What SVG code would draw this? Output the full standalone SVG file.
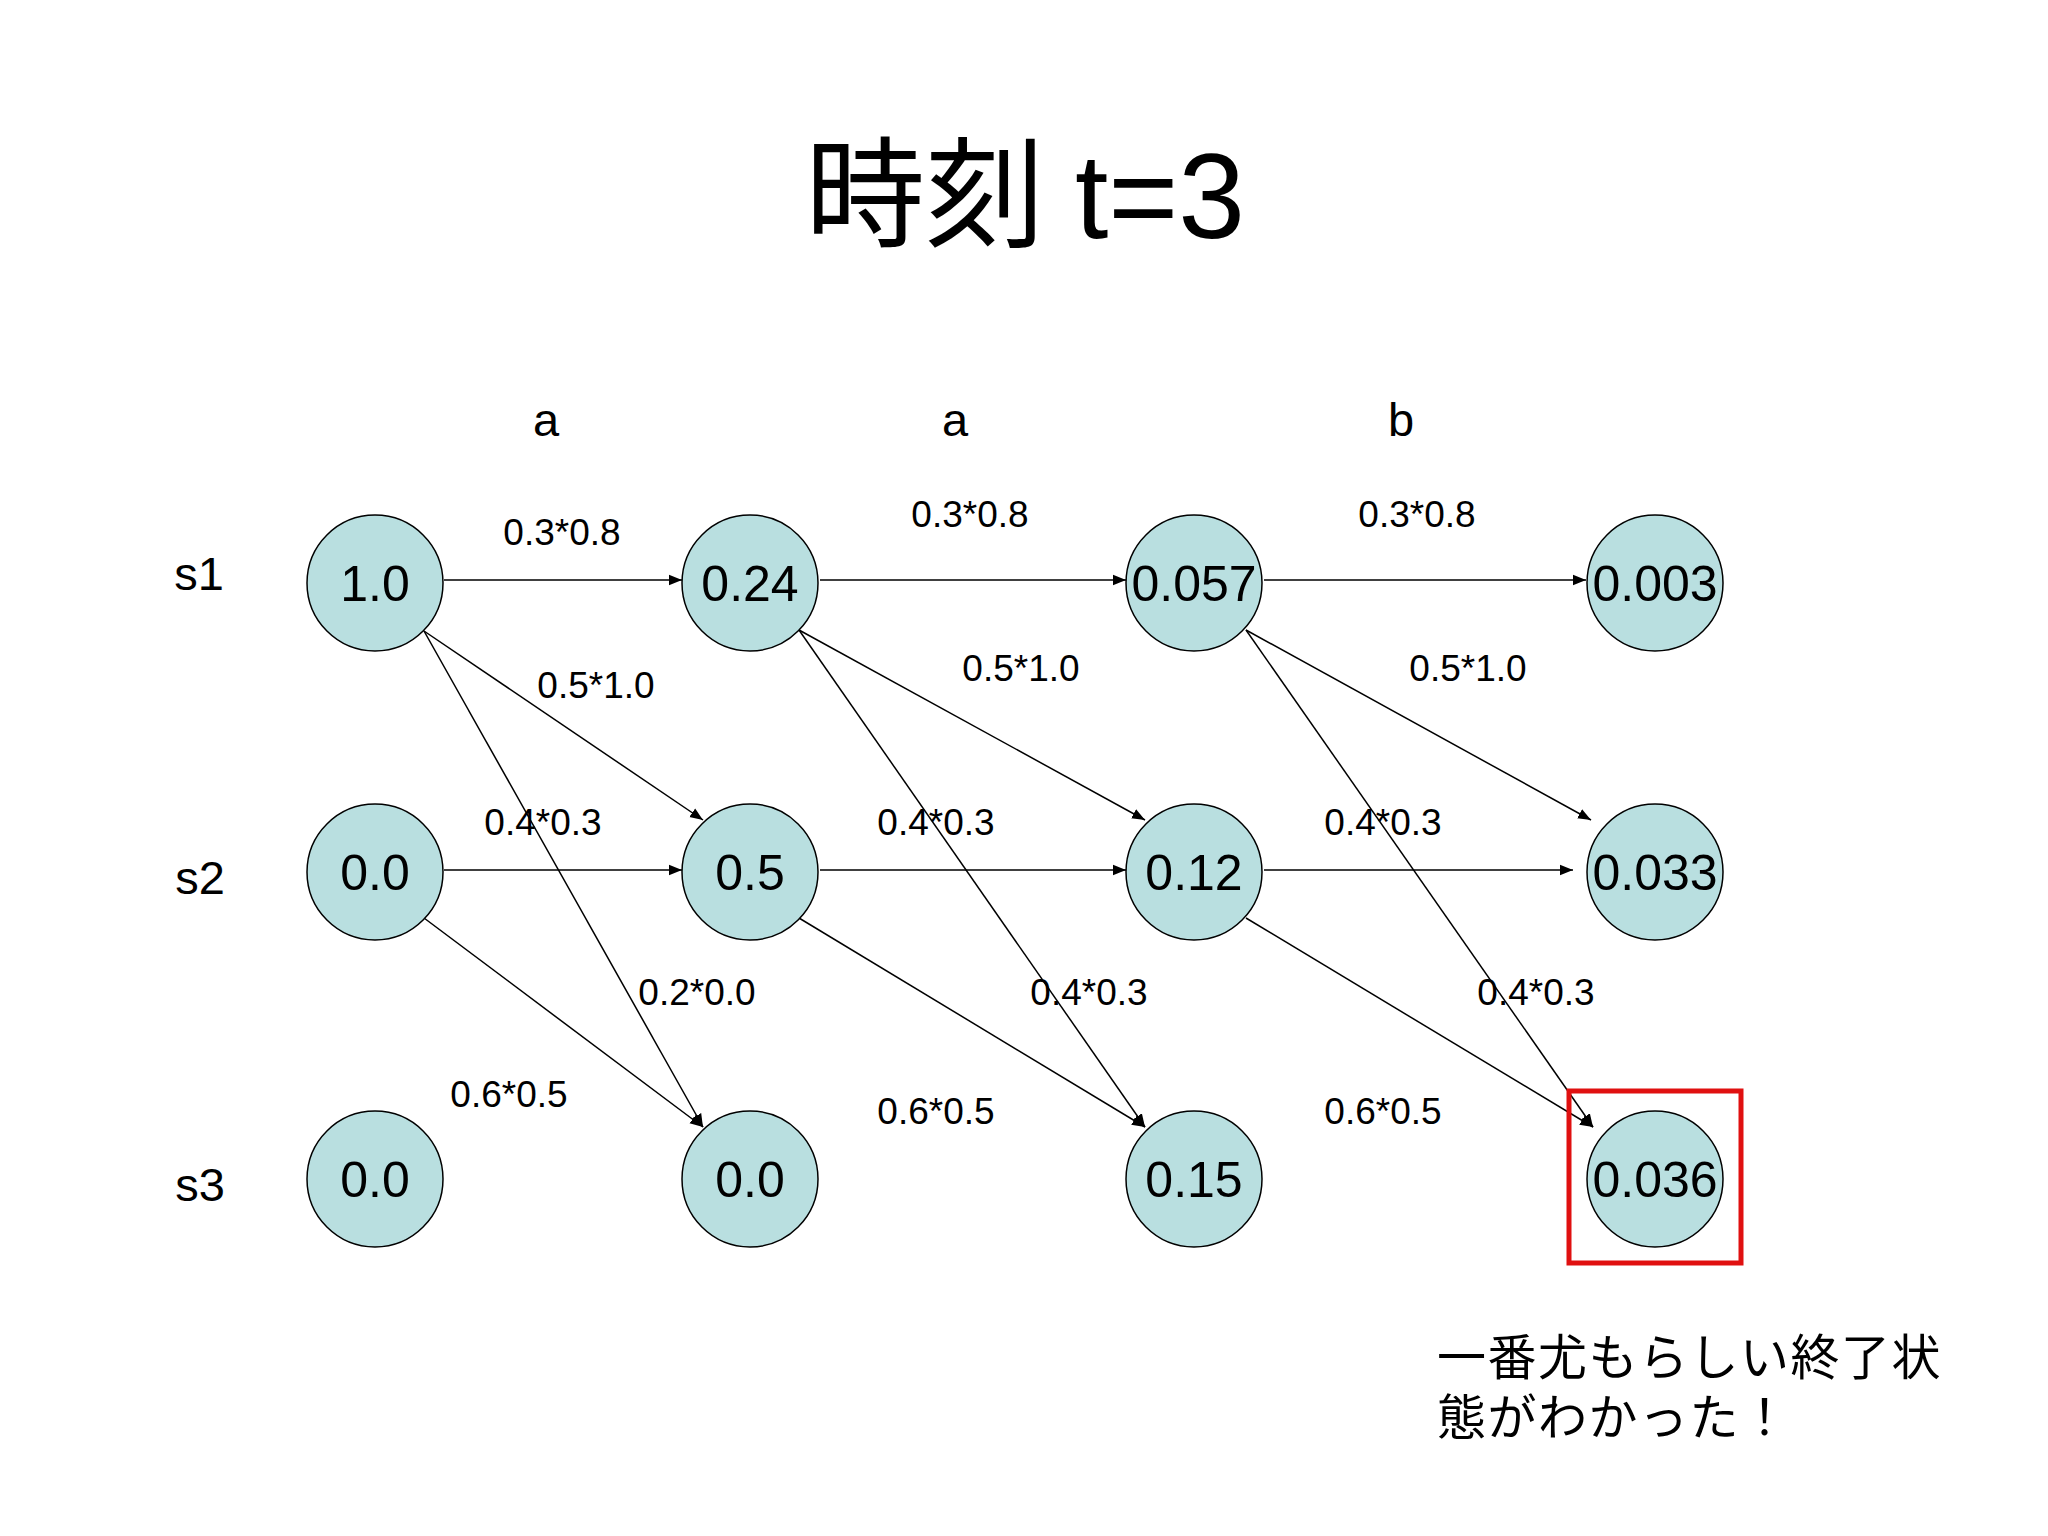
<svg xmlns="http://www.w3.org/2000/svg" width="2048" height="1536" viewBox="0 0 2048 1536">
<style>
.n{fill:#b9dfe0;stroke:#000;stroke-width:1.5}
.nt{font-family:"Liberation Sans",Arial,sans-serif;font-size:50px;text-anchor:middle}
.l{font-family:"Liberation Sans",Arial,sans-serif;font-size:37px;text-anchor:middle}
.h{font-family:"Liberation Sans",Arial,sans-serif;font-size:47px;text-anchor:middle}
.e{stroke:#000;stroke-width:1.5;fill:none;marker-end:url(#ah)}
</style>
<defs><marker id="ah" viewBox="0 0 10 10" refX="10" refY="5" markerWidth="13" markerHeight="13" markerUnits="userSpaceOnUse" orient="auto"><path d="M0,1 L10,5 L0,9 z" fill="#000"/></marker></defs>
<rect width="2048" height="1536" fill="#fff"/>
<text x="1025" y="238" font-family="'Liberation Serif','Noto Sans CJK JP',serif" font-size="120" text-anchor="middle">時刻 <tspan font-family="'Liberation Sans',sans-serif">t=3</tspan></text>
<text class="h" x="546" y="436">a</text><text class="h" x="955" y="436">a</text><text class="h" x="1401" y="436">b</text>
<text class="h" x="199" y="590">s1</text><text class="h" x="200" y="894">s2</text><text class="h" x="200" y="1201">s3</text>
<g id="edges">
<line class="e" x1="444" y1="580" x2="682" y2="580"/><line class="e" x1="820" y1="580" x2="1126" y2="580"/><line class="e" x1="1264" y1="580" x2="1586" y2="580"/>
<line class="e" x1="444" y1="870" x2="682" y2="870"/><line class="e" x1="820" y1="870" x2="1126" y2="870"/><line class="e" x1="1264" y1="870" x2="1573" y2="870" stroke-width="2.5"/>
<line class="e" x1="424" y1="631" x2="703" y2="820"/><line class="e" x1="799" y1="630" x2="1145" y2="820"/><line class="e" x1="1246" y1="630" x2="1591" y2="820"/>
<line class="e" x1="424" y1="631" x2="703" y2="1127"/><line class="e" x1="799" y1="630" x2="1145" y2="1127"/><line class="e" x1="1246" y1="630" x2="1593" y2="1127"/>
<line class="e" x1="424" y1="918" x2="703" y2="1127"/><line class="e" x1="799" y1="918" x2="1145" y2="1127"/><line class="e" x1="1246" y1="918" x2="1593" y2="1127"/>
</g>
<g id="labels">
<text class="l" x="562" y="545">0.3*0.8</text><text class="l" x="970" y="527">0.3*0.8</text><text class="l" x="1417" y="527">0.3*0.8</text>
<text class="l" x="596" y="698">0.5*1.0</text><text class="l" x="1021" y="681">0.5*1.0</text><text class="l" x="1468" y="681">0.5*1.0</text>
<text class="l" x="543" y="835">0.4*0.3</text><text class="l" x="936" y="835">0.4*0.3</text><text class="l" x="1383" y="835">0.4*0.3</text>
<text class="l" x="697" y="1005">0.2*0.0</text><text class="l" x="1089" y="1005">0.4*0.3</text><text class="l" x="1536" y="1005">0.4*0.3</text>
<text class="l" x="509" y="1107">0.6*0.5</text><text class="l" x="936" y="1124">0.6*0.5</text><text class="l" x="1383" y="1124">0.6*0.5</text>
</g>
<g id="n11"><circle class="n" cx="375" cy="583" r="68"/><text class="nt" x="375" y="601">1.0</text></g>
<g id="n12"><circle class="n" cx="750" cy="583" r="68"/><text class="nt" x="750" y="601">0.24</text></g>
<g id="n13"><circle class="n" cx="1194" cy="583" r="68"/><text class="nt" x="1194" y="601">0.057</text></g>
<g id="n14"><circle class="n" cx="1655" cy="583" r="68"/><text class="nt" x="1655" y="601">0.003</text></g>
<g id="n21"><circle class="n" cx="375" cy="872" r="68"/><text class="nt" x="375" y="890">0.0</text></g>
<g id="n22"><circle class="n" cx="750" cy="872" r="68"/><text class="nt" x="750" y="890">0.5</text></g>
<g id="n23"><circle class="n" cx="1194" cy="872" r="68"/><text class="nt" x="1194" y="890">0.12</text></g>
<g id="n24"><circle class="n" cx="1655" cy="872" r="68"/><text class="nt" x="1655" y="890">0.033</text></g>
<g id="n31"><circle class="n" cx="375" cy="1179" r="68"/><text class="nt" x="375" y="1197">0.0</text></g>
<g id="n32"><circle class="n" cx="750" cy="1179" r="68"/><text class="nt" x="750" y="1197">0.0</text></g>
<g id="n33"><circle class="n" cx="1194" cy="1179" r="68"/><text class="nt" x="1194" y="1197">0.15</text></g>
<g id="n34"><circle class="n" cx="1655" cy="1179" r="68"/><text class="nt" x="1655" y="1197">0.036</text></g>
<rect x="1569" y="1091" width="172" height="172" fill="none" stroke="#e01010" stroke-width="5"/>
<g font-family="'Noto Sans CJK JP',sans-serif" font-size="49" letter-spacing="1.5">
<text x="1437" y="1375">一番尤もらしい終了状</text>
<text x="1437" y="1435">態がわかった！</text>
</g>
</svg>
